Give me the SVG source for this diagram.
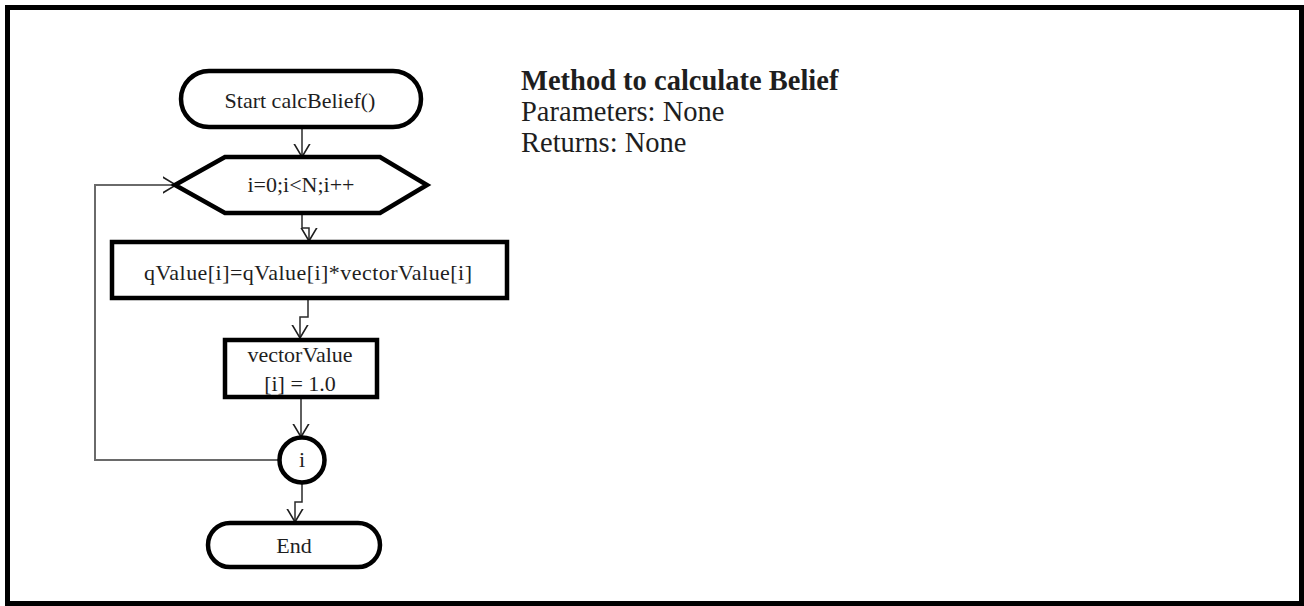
<svg xmlns="http://www.w3.org/2000/svg" width="1304" height="606" viewBox="0 0 1304 606">
  <style>
    .shape { fill: #ffffff; stroke: #000000; stroke-width: 4.5; }
    .label { font-family: "Liberation Serif", "Times New Roman", serif; font-size: 22px; fill: #1e1e1e; text-anchor: middle; }
    .note { font-family: "Liberation Serif", "Times New Roman", serif; font-size: 28.5px; fill: #1e1e1e; }
    .flow { fill: none; stroke: #2a2a2a; stroke-width: 1.5; }
    .back { fill: none; stroke: #6a6a6a; stroke-width: 2; }
  </style>
  <defs>
    <marker id="open-arrow" viewBox="0 0 14 18" refX="13.5" refY="9" markerWidth="14" markerHeight="18" markerUnits="userSpaceOnUse" orient="auto">
      <path d="M0,1 L13.5,9 L0,17" fill="none" stroke="#1e1e1e" stroke-width="1.6"/>
    </marker>
  </defs>

  <!-- page frame -->
  <rect x="0" y="0" width="1304" height="606" fill="#ffffff"/>
  <rect x="7.5" y="7.5" width="1294" height="596" fill="none" stroke="#000000" stroke-width="5"/>

  <!-- connectors -->
  <g id="connectors">
    <path class="flow" d="M302,128 V157" marker-end="url(#open-arrow)"/>
    <path class="flow" d="M302,214 V228 H309 V241" marker-end="url(#open-arrow)"/>
    <path class="flow" d="M308,299 V317 H300 V338" marker-end="url(#open-arrow)"/>
    <path class="flow" d="M301,398 V437" marker-end="url(#open-arrow)"/>
    <path class="flow" d="M302,484 V502 H295 V522" marker-end="url(#open-arrow)"/>
    <path class="back" d="M279,460 H95 V185 H176" marker-end="url(#open-arrow)"/>
  </g>

  <g id="start">
    <rect class="shape" x="181" y="71" width="240" height="56" rx="28" ry="28"/>
    <text class="label" x="300" y="108">Start calcBelief()</text>
  </g>

  <g id="loop">
    <polygon class="shape" points="175,185 225,157 380,157 427,185 380,213 225,213"/>
    <text class="label" x="301" y="192">i=0;i&lt;N;i++</text>
  </g>

  <g id="update-q">
    <rect class="shape" x="112" y="242" width="395" height="56"/>
    <text class="label" x="308" y="280" textLength="328" lengthAdjust="spacing">qValue[i]=qValue[i]*vectorValue[i]</text>
  </g>

  <g id="reset-vector">
    <rect class="shape" x="225" y="340" width="152" height="57"/>
    <text class="label" x="300" y="362">vectorValue</text>
    <text class="label" x="300" y="391">[i] = 1.0</text>
  </g>

  <g id="loop-end">
    <circle class="shape" cx="302" cy="460" r="22.5"/>
    <text class="label" x="302" y="467">i</text>
  </g>

  <g id="end">
    <rect class="shape" x="208" y="523" width="172" height="44" rx="22" ry="22"/>
    <text class="label" x="294" y="553">End</text>
  </g>

  <g id="description">
    <text class="note" x="521" y="90" font-weight="bold">Method to calculate Belief</text>
    <text class="note" x="521" y="121">Parameters: None</text>
    <text class="note" x="521" y="152">Returns: None</text>
  </g>
</svg>
